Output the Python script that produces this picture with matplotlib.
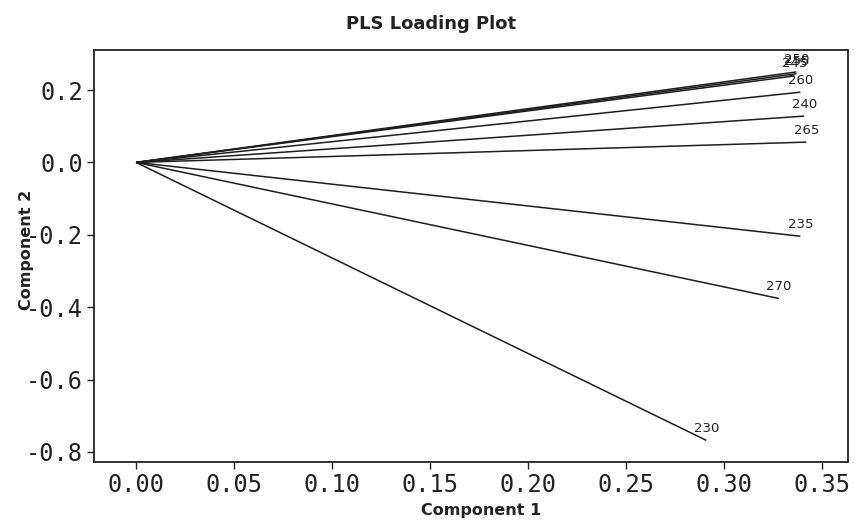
import matplotlib
matplotlib.use("Agg")
import matplotlib.pyplot as plt
import numpy as np

plt.rcParams['axes.unicode_minus'] = False

# PLS loadings per wavelength (nm): component 1 and component 2
wavelengths = ["230", "235", "240", "245", "250", "255", "260", "265", "270"]
comp1 = [0.291, 0.339, 0.341, 0.336, 0.337, 0.337, 0.339, 0.342, 0.328]
comp2 = [-0.768, -0.204, 0.128, 0.239, 0.250, 0.245, 0.194, 0.056, -0.376]

x_ticks = [0.00, 0.05, 0.10, 0.15, 0.20, 0.25, 0.30, 0.35]
y_ticks = [0.2, 0.0, -0.2, -0.4, -0.6, -0.8]

fig = plt.figure(figsize=(8.55, 5.2), dpi=100)
ax = fig.add_axes([0.1103, 0.1121, 0.8815, 0.7917])

for name, x, y in zip(wavelengths, comp1, comp2):
    ax.plot([0, x], [0, y], color='#1e1e1e', lw=1.1, solid_capstyle='butt')
    ax.annotate(name, xy=(x, y), xytext=(0, 4), textcoords='offset points',
                ha='center', va='bottom', fontsize=9.5, color='#222222',
                family='DejaVu Sans')

ax.set_xlim(-0.0213, 0.3633)
ax.set_ylim(-0.827, 0.3105)
ax.set_xticks(x_ticks)
ax.set_yticks(y_ticks)
ax.set_xticklabels([f"{v:.2f}" for v in x_ticks])
ax.set_yticklabels([f"{v:.1f}" for v in y_ticks])
ax.tick_params(direction='out', length=5, width=1.0, pad=3, labelsize=17,
               colors='#222222')
for lab in ax.get_xticklabels() + ax.get_yticklabels():
    lab.set_family('DejaVu Sans Mono')
for sp in ax.spines.values():
    sp.set_linewidth(1.3)
    sp.set_color('#222222')

fig.text(431 / 855, 1 - 24 / 520, "PLS Loading Plot", ha='center', va='center',
         fontsize=13, fontweight='bold', color='#222222')
fig.text(481 / 855, 1 - 510 / 520, "Component 1", ha='center', va='center',
         fontsize=11.5, fontweight='bold', color='#222222')
fig.text(27 / 855, 1 - 250 / 520, "Component 2", ha='center', va='center',
         rotation=90, fontsize=11.5, fontweight='bold', color='#222222')

fig.savefig("out.png", dpi=100)
